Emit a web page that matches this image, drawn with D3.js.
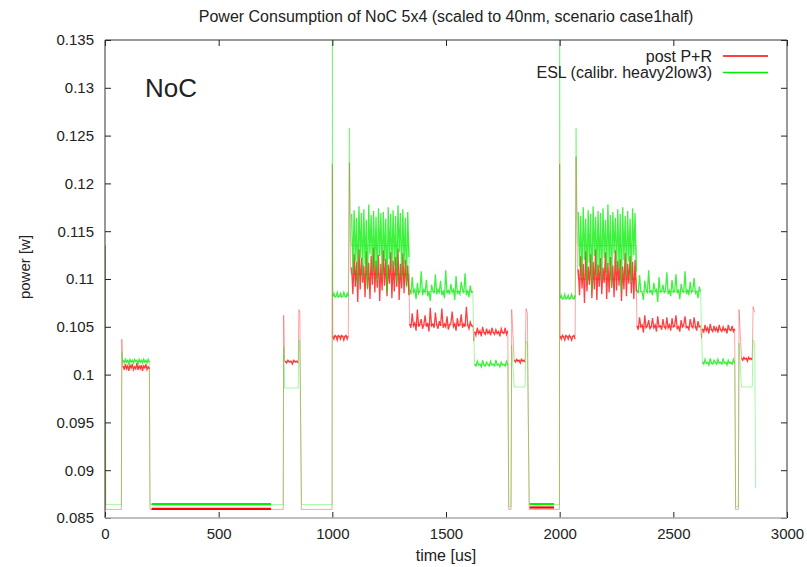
<!DOCTYPE html>
<html>
<head>
<meta charset="utf-8">
<script src="https://cdn.jsdelivr.net/npm/d3@7"></script>
<style>
body { margin: 0; background: #fff; }
text { font-family: "Liberation Sans", Arial, sans-serif; fill: #222; }
</style>
</head>
<body>
<div id="chart"></div>
<script>
// axis ticks
var xTicks = [0, 500, 1000, 1500, 2000, 2500, 3000];
var yTicks = [0.085, 0.09, 0.095, 0.1, 0.105, 0.11, 0.115, 0.12, 0.125, 0.13, 0.135];
var yTickLabels = ["0.085", "0.09", "0.095", "0.1", "0.105", "0.11", "0.115", "0.12", "0.125", "0.13", "0.135"];
var seriesNames = ["post P+R", "ESL (calibr. heavy2low3)"];

// step outline of each trace: [time us, power mW]
var redSteps = [[0,85.9],[1,113.5],[3,85.9],[72,85.9],[74,103.7],[78,100.8],[195,100.8],[198,85.9],
  [784,85.9],[786,106.2],[790,101.4],[850,101.4],[853,106.8],[857,106.5],[864,85.9],
  [999,85.9],[1000,122],[1002,104.0],[1070,104.0],[1075,122.2],[1080,111],[1085,110.5],[1337,110.5],
  [1340,105.2],[1618,105.2],[1622,103.5],[1626,104.4],[1772,104.4],[1776,85.9],[1786,85.9],
  [1789,106.8],[1800,101.5],[1848,101.5],[1852,106.9],[1858,106.4],[1866,85.9],
  [1999,85.9],[2000,122],[2002,104.0],[2068,104.0],[2072,122.8],[2078,111],[2082,110],[2337,110],
  [2340,105.0],[2620,105.0],[2624,103.8],[2628,104.7],[2770,104.7],[2774,85.9],[2786,85.9],
  [2789,106.8],[2800,101.7],[2847,101.7],[2851,107.1],[2858,106.5]];
var greenSteps = [[0,86.4],[1,113.5],[3,86.4],[72,86.4],[74,102.4],[78,101.4],[195,101.4],[198,86.4],
  [784,86.4],[786,102.9],[790,98.6],[850,98.6],[853,103.6],[857,103.4],[864,86.4],
  [999,86.4],[1000,140],[1002,108.2],[1070,108.2],[1075,125.8],[1080,114],[1085,113.5],[1337,113.5],
  [1340,108.7],[1618,108.7],[1622,104.2],[1626,101.0],[1772,101.0],[1776,86.2],[1786,86.2],
  [1789,103.1],[1800,98.7],[1848,98.7],[1852,103.5],[1858,103.3],[1866,86.4],
  [1999,86.4],[2000,140],[2002,108.0],[2068,108.0],[2072,125.8],[2078,114],[2082,113.5],[2337,113.5],
  [2340,108.7],[2620,108.7],[2624,104.5],[2628,101.2],[2770,101.2],[2774,86.2],[2786,86.2],
  [2789,103.3],[2800,98.7],[2847,98.7],[2851,103.6],[2858,103.4],[2862,88.1]];

// densely sampled idle stretches: [from us, to us, mW]
var redIdle = [[205, 730, 85.95], [1868, 1975, 86.1]];
var greenIdle = [[205, 730, 86.45], [1868, 1975, 86.45]];

var redP1 = [100.9,100.5,101.1,100.6,100.9,100.4,101.0,100.7,101.1,100.5,100.8,100.6,101.2,100.5,100.9,100.6,101.0,100.4,100.9,100.7,101.1,100.5,100.8,100.6];
var redP2 = [101.4,101.2,101.5,101.3,101.4,101.1,101.5,101.3,101.4,101.2];
var redP3 = [104.0,103.7,104.1,104.0,103.6,104.1,104.0,103.7,104.1,104.0,103.6,104.0,104.1,103.7,104.0];
var redA1 = [111.2,108.4,112.6,109.2,111.8,107.6,113.1,108.9,112.2,109.6,111.4,108.1,112.9,109.0,111.7,107.9,112.4,109.4,113.3,108.6,111.9,109.1,112.5,107.7,111.6,108.8,113.0,109.3,112.1,108.2,111.5,109.5,112.8,108.0,111.9,108.7,112.3,109.2,113.2,107.8,111.6,109.0,112.7,108.5,112.0,109.3,111.4,108.3];
var redB1 = [105.3,104.9,106.4,105.1,105.4,104.6,106.8,105.0,105.3,105.8,104.8,105.2,106.2,105.0,105.4,104.5,107.0,105.1,105.3,104.9,106.5,105.2,104.8,105.6,105.1,106.9,104.9,105.3,105.0,106.1,104.7,105.2,105.4,106.6,105.0,105.3,104.6,105.9,105.1,105.2,106.3,104.9,105.3,105.0,107.1,105.2,104.8,105.5,105.1,105.0];
var redC1 = [104.5,104.1,104.9,104.3,104.6,104.0,105.0,104.4,104.2,104.8,104.3,104.6,104.1,104.9,104.4,104.2,104.7,104.3,104.5,104.0,104.8,104.4,104.3,104.9,104.2,104.6];
var redP4 = [101.5,101.3,101.6,101.4,101.5,101.2,101.6,101.4,101.5,101.3];
var redP5 = [104.0,103.7,104.1,103.9,103.6,104.1,104.0,103.7,104.1,103.9,103.6,104.0,104.1,103.7];
var redA2 = [111.0,108.3,112.4,109.0,111.6,107.5,112.9,108.7,111.3,109.4,112.6,108.0,111.8,108.9,113.1,107.8,111.5,109.2,112.2,108.4,111.2,109.6,112.8,107.9,111.7,108.6,112.3,109.1,111.4,108.1,113.0,108.8,111.9,109.3,112.1,107.7,111.3,108.9,112.7,108.2,111.6,109.5,112.4,108.5,111.8,107.9,112.0,108.7];
var redB2 = [105.1,104.7,106.0,105.0,105.2,104.4,106.2,104.9,105.1,105.7,104.8,105.0,105.9,104.9,105.2,104.5,106.1,105.0,105.1,104.7,105.8,105.0,104.8,106.0,104.9,105.2,104.6,105.9,105.0,105.1,106.2,104.8,105.0,104.5,105.7,105.0,105.2,106.1,104.9,105.0,104.7,105.8,105.1,104.9,106.0,105.0,104.6,105.6,105.0,105.1];
var redC2 = [104.8,104.4,105.2,104.6,104.9,104.3,105.3,104.7,104.5,105.1,104.6,104.9,104.4,105.2,104.7,104.5,105.0,104.6,104.8,104.3,105.2,104.7,104.6,105.1,104.5,104.8];
var redP6 = [101.7,101.5,101.8,101.6,101.7,101.4,101.8,101.6,101.7,101.5];

var greenP1 = [101.5,101.2,101.6,101.3,101.5,101.1,101.6,101.3,101.5,101.2,101.6,101.4,101.5,101.1,101.6,101.3,101.5,101.2,101.6,101.3,101.5,101.2,101.6,101.3];
var greenP3 = [108.2,108.5,108.1,108.2,108.6,108.1,108.2,108.5,108.1,108.2,108.6,108.2,108.1,108.5,108.2];
var greenA1 = [116.8,110.6,117.2,111.8,116.4,109.4,117.6,112.2,116.9,110.1,117.3,111.5,116.2,108.9,117.8,112.6,116.7,110.8,117.1,111.2,116.5,109.8,117.4,112.4,116.9,110.3,117.0,111.9,116.3,108.6,117.5,112.1,116.8,110.7,117.2,111.4,116.6,109.5,117.7,112.8,116.9,110.2,117.3,111.6,116.4,109.1,117.0,112.3];
var greenB1 = [108.9,108.4,110.2,108.6,108.9,107.9,109.6,108.5,108.8,110.8,108.3,108.9,108.6,109.9,108.2,108.7,107.7,109.4,108.8,108.5,110.5,108.4,108.9,108.6,109.8,108.3,108.7,108.0,110.9,108.5,108.8,108.4,109.5,108.6,108.9,107.8,110.3,108.5,108.7,108.4,109.7,108.9,108.5,110.6,108.3,108.8,108.1,109.3,108.6,108.7];
var greenC1 = [101.1,100.9,101.4,101.0,101.1,100.8,101.5,101.0,100.9,101.3,101.1,100.9,101.4,101.0,101.1,100.9,101.5,101.0,101.1,100.8,101.3,101.0,101.1,100.9,101.4,101.0];
var greenP5 = [108.0,108.3,107.9,108.0,108.4,107.9,108.0,108.3,107.9,108.0,108.4,108.0,107.9,108.3];
var greenA2 = [117.0,111.3,116.6,110.1,117.5,112.0,116.3,109.6,117.2,111.7,116.8,108.8,117.6,112.4,116.5,110.4,117.1,111.1,116.9,109.9,117.4,112.2,116.2,110.6,117.8,111.5,116.7,109.2,117.0,112.7,116.4,110.9,117.3,111.3,116.8,108.7,117.5,112.0,116.6,110.3,117.1,111.8,116.3,109.7,117.4,112.5,116.9,110.8];
var greenB2 = [108.8,108.5,110.4,108.7,108.6,107.8,109.8,108.9,108.5,110.9,108.6,108.8,108.3,109.6,108.7,108.9,107.6,110.2,108.6,108.7,109.4,108.5,108.9,110.7,108.4,108.8,108.2,109.9,108.6,108.7,110.5,108.5,108.9,107.9,109.5,108.7,108.6,110.8,108.4,108.9,108.3,109.7,108.6,108.8,110.1,108.5,108.7,108.0,109.2,108.7];
var greenC2 = [101.3,101.1,101.6,101.2,101.3,101.0,101.7,101.2,101.1,101.5,101.3,101.1,101.6,101.2,101.3,101.1,101.7,101.2,101.3,101.0,101.5,101.2,101.3,101.1,101.6,101.2];

// which time span each sample list covers
var redBusy = [[80,195,redP1],[792,850,redP2],[1002,1070,redP3],[1085,1337,redA1],[1340,1618,redB1],[1626,1772,redC1],
  [1800,1848,redP4],[2002,2068,redP5],[2082,2337,redA2],[2340,2620,redB2],[2628,2770,redC2],[2800,2847,redP6]];
var greenBusy = [[80,195,greenP1],[1002,1070,greenP3],[1085,1337,greenA1],[1340,1618,greenB1],[1626,1772,greenC1],
  [2002,2068,greenP5],[2082,2337,greenA2],[2340,2620,greenB2],[2628,2770,greenC2]];

// layout
var width = 807, height = 567;
var border = {top: 40, right: 20, bottom: 49, left: 105};
var red = "#ff0000", green = "#00ee00";

var xScale = d3.scaleLinear().domain([0, 3000]).range([border.left, width - border.right]);
var yScale = d3.scaleLinear().domain([0.085, 0.135]).range([height - border.bottom, border.top]);

var svg = d3.select("#chart").append("svg")
   .attr("width", width).attr("height", height);

svg.append("clipPath").attr("id", "plot-area")
   .append("rect")
   .attr("x", border.left).attr("y", border.top)
   .attr("width", xScale.range()[1] - border.left)
   .attr("height", yScale.range()[0] - border.top);

var line = d3.line()
   .x(function(d){ return xScale(d[0]); })
   .y(function(d){ return yScale(d[1] / 1000); });

var gData = svg.append("g").attr("clip-path", "url(#plot-area)");

function drawTrace(steps, idle, busy, colour) {
   // thin outline
   gData.append("path").datum(steps)
      .attr("d", line).attr("fill", "none")
      .attr("stroke", colour).attr("stroke-width", 0.8).attr("stroke-opacity", 0.45);
   // dense flat stretches
   idle.forEach(function(s){
      gData.append("path").datum([[s[0], s[2]], [s[1], s[2]]])
         .attr("d", line).attr("fill", "none")
         .attr("stroke", colour).attr("stroke-width", 2.2);
   });
   // busy phases
   busy.forEach(function(b){
      var n = b[2].length;
      var pts = b[2].map(function(v, i){ return [b[0] + (b[1] - b[0]) * i / (n - 1), v]; });
      gData.append("path").datum(pts)
         .attr("d", line).attr("fill", "none")
         .attr("stroke", colour).attr("stroke-width", 1.3).attr("stroke-opacity", 0.75);
   });
}
drawTrace(redSteps, redIdle, redBusy, red);
drawTrace(greenSteps, greenIdle, greenBusy, green);

// axes (ticks inside, mirrored)
var plotBottom = yScale.range()[0], plotRight = xScale.range()[1];
svg.append("g").attr("class", "x-axis")
   .attr("transform", "translate(0," + plotBottom + ")")
   .call(d3.axisBottom(xScale).tickValues(xTicks).tickSize(-6).tickPadding(10).tickFormat(d3.format("d")));
svg.append("g").attr("class", "x-axis-top")
   .attr("transform", "translate(0," + border.top + ")")
   .call(d3.axisTop(xScale).tickValues(xTicks).tickSize(-6).tickFormat(""));
svg.append("g").attr("class", "y-axis")
   .attr("transform", "translate(" + border.left + ",0)")
   .call(d3.axisLeft(yScale).tickValues(yTicks).tickSize(-6).tickPadding(11)
      .tickFormat(function(d, i){ return yTickLabels[i]; }));
svg.append("g").attr("class", "y-axis-right")
   .attr("transform", "translate(" + plotRight + ",0)")
   .call(d3.axisRight(yScale).tickValues(yTicks).tickSize(-6).tickFormat(""));
svg.selectAll(".domain").remove();
svg.selectAll(".tick line").attr("stroke", "#222");
svg.selectAll(".x-axis text, .y-axis text")
   .style("font-family", "'Liberation Sans', Arial, sans-serif")
   .style("font-size", "15px").attr("fill", "#222");

// frame
svg.append("path")
   .attr("d", "M" + border.left + "," + plotBottom + "V" + border.top + "H" + plotRight + "V" + plotBottom)
   .attr("fill", "none").attr("stroke", "#333").attr("stroke-width", 1);
svg.append("line")
   .attr("x1", border.left).attr("x2", plotRight)
   .attr("y1", plotBottom).attr("y2", plotBottom)
   .attr("stroke", "#aaa").attr("stroke-width", 1.5);

// title and labels
svg.append("text")
   .attr("x", (border.left + plotRight) / 2).attr("y", 22)
   .attr("text-anchor", "middle").style("font-size", "16px")
   .text("Power Consumption of NoC 5x4 (scaled to 40nm, scenario case1half)");
svg.append("text")
   .attr("x", (border.left + plotRight) / 2).attr("y", 561)
   .attr("text-anchor", "middle").style("font-size", "16px")
   .text("time [us]");
svg.append("text")
   .attr("transform", "translate(30,267) rotate(-90)")
   .attr("text-anchor", "middle").style("font-size", "15px")
   .text("power [w]");
svg.append("text")
   .attr("x", 145).attr("y", 97)
   .style("font-size", "26px").attr("fill", "#111")
   .text("NoC");

// legend
var legend = svg.append("g").attr("class", "legend");
[red, green].forEach(function(c, i){
   var ly = 56 + i * 16.6;
   legend.append("text")
      .attr("x", 712).attr("y", ly).attr("dy", "0.35em")
      .attr("text-anchor", "end").style("font-size", "16px")
      .text(seriesNames[i]);
   legend.append("line")
      .attr("x1", 723).attr("x2", 768).attr("y1", ly).attr("y2", ly)
      .attr("stroke", c).attr("stroke-width", 1.5);
});
</script>
</body>
</html>
